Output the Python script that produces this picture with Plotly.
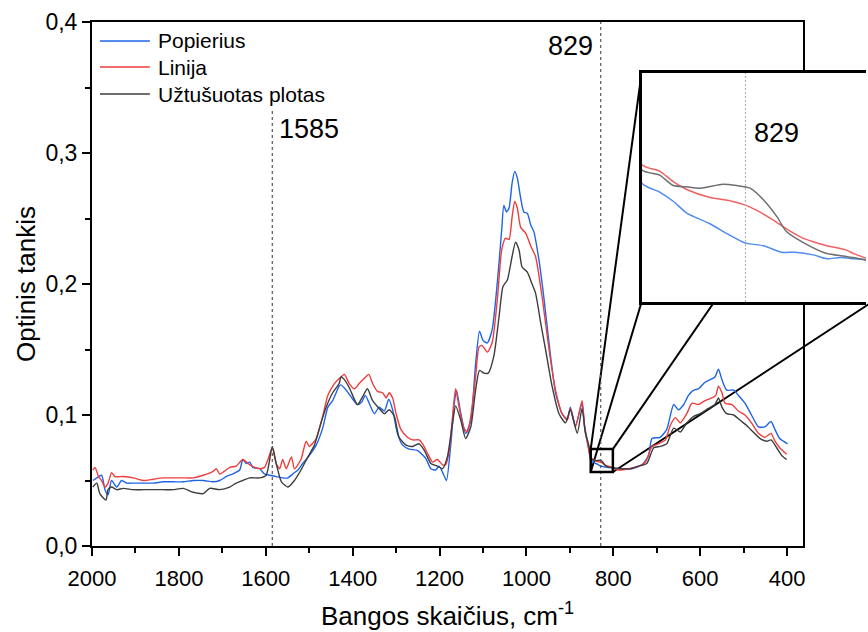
import plotly.graph_objects as go

# ---------------- data ----------------
series_names = ["Popierius", "Linija", "Užtušuotas plotas"]

popierius_x = [1998, 1989, 1978, 1970, 1963, 1955, 1943, 1932, 1920, 1905, 1882, 1859, 1836, 1813, 1790,
               1767, 1744, 1721, 1706, 1691, 1676, 1660, 1653, 1645, 1637, 1630, 1614, 1603, 1591, 1576,
               1561, 1549, 1538, 1526, 1515, 1500, 1484, 1469, 1457, 1446, 1431, 1427, 1415, 1404, 1389,
               1379, 1371, 1362, 1350, 1339, 1327, 1317, 1308, 1297, 1285, 1270, 1251, 1232, 1220, 1209,
               1201, 1190, 1184, 1174, 1166, 1161, 1151, 1140, 1128, 1117, 1108, 1100, 1090, 1079, 1067,
               1057, 1052, 1046, 1040, 1033, 1027, 1021, 1013, 1006, 998, 990, 983, 971, 960, 948,
               933, 918, 906, 899, 887, 872, 866, 857, 852, 848, 845, 842, 837, 833, 829,
               825, 821, 818, 814, 811, 808, 805, 802, 795, 780, 757, 734, 719, 711, 692,
               677, 661, 650, 638, 627, 615, 604, 589, 577, 566, 558, 550, 539, 523, 512,
               497, 482, 466, 451, 437, 428, 417, 399]
popierius_y = [0.050, 0.052, 0.054, 0.043, 0.039, 0.050, 0.045, 0.050, 0.048, 0.048, 0.048, 0.048, 0.049, 0.049, 0.049,
               0.050, 0.050, 0.049, 0.050, 0.053, 0.055, 0.058, 0.066, 0.063, 0.064, 0.060, 0.059, 0.055, 0.054, 0.053,
               0.052, 0.052, 0.055, 0.058, 0.063, 0.069, 0.077, 0.090, 0.106, 0.111, 0.122, 0.123, 0.119, 0.114, 0.108,
               0.110, 0.115, 0.109, 0.101, 0.106, 0.103, 0.112, 0.104, 0.086, 0.077, 0.074, 0.073, 0.067, 0.059, 0.058,
               0.061, 0.054, 0.050, 0.078, 0.109, 0.119, 0.101, 0.086, 0.096, 0.139, 0.164, 0.157, 0.155, 0.165, 0.201,
               0.241, 0.260, 0.255, 0.258, 0.277, 0.286, 0.281, 0.265, 0.255, 0.254, 0.245, 0.240, 0.218, 0.190, 0.155,
               0.117, 0.101, 0.097, 0.106, 0.092, 0.109, 0.091, 0.076, 0.0656, 0.0649, 0.0642, 0.0633, 0.0625, 0.0617, 0.0610,
               0.0608, 0.0603, 0.0603, 0.0601, 0.0598, 0.0599, 0.0598, 0.0597, 0.059, 0.059, 0.059, 0.062, 0.069, 0.082, 0.083,
               0.089, 0.108, 0.104, 0.108, 0.115, 0.119, 0.120, 0.125, 0.127, 0.129, 0.135, 0.127, 0.119, 0.119, 0.115,
               0.109, 0.100, 0.091, 0.091, 0.095, 0.089, 0.082, 0.078]

linija_x = [1998, 1993, 1985, 1978, 1970, 1963, 1955, 1947, 1928, 1905, 1882, 1859, 1836, 1813, 1790,
            1767, 1744, 1721, 1714, 1706, 1683, 1668, 1653, 1637, 1614, 1603, 1595, 1585, 1576, 1568,
            1561, 1553, 1541, 1534, 1519, 1507, 1500, 1484, 1477, 1469, 1457, 1442, 1427, 1419, 1408,
            1396, 1385, 1373, 1363, 1354, 1343, 1331, 1323, 1316, 1308, 1300, 1289, 1274, 1262, 1247,
            1239, 1228, 1216, 1205, 1193, 1186, 1178, 1170, 1163, 1155, 1144, 1136, 1128, 1117, 1109,
            1102, 1090, 1079, 1067, 1057, 1048, 1040, 1033, 1027, 1021, 1013, 1002, 990, 979, 963,
            948, 933, 918, 906, 899, 887, 872, 866, 861, 852, 848, 845, 842, 837, 832,
            829, 826, 823, 820, 817, 814, 811, 807, 805, 802, 788, 764, 742, 726, 711,
            696, 680, 669, 657, 646, 631, 619, 604, 589, 573, 564, 558, 550, 543, 527,
            512, 497, 482, 466, 451, 437, 428, 417, 401]
linija_y = [0.058, 0.060, 0.053, 0.050, 0.045, 0.048, 0.056, 0.053, 0.053, 0.052, 0.050, 0.051, 0.052, 0.052, 0.052,
            0.052, 0.054, 0.057, 0.059, 0.055, 0.060, 0.061, 0.066, 0.062, 0.059, 0.060, 0.066, 0.075, 0.063, 0.059,
            0.066, 0.059, 0.068, 0.059, 0.066, 0.080, 0.076, 0.082, 0.089, 0.099, 0.115, 0.124, 0.129, 0.131, 0.124,
            0.120, 0.124, 0.128, 0.131, 0.124, 0.118, 0.117, 0.113, 0.117, 0.113, 0.101, 0.089, 0.083, 0.081, 0.081,
            0.078, 0.071, 0.064, 0.066, 0.062, 0.062, 0.072, 0.099, 0.120, 0.106, 0.090, 0.087, 0.099, 0.129, 0.152,
            0.153, 0.148, 0.155, 0.188, 0.226, 0.235, 0.234, 0.251, 0.263, 0.258, 0.243, 0.239, 0.229, 0.221, 0.188,
            0.150, 0.119, 0.101, 0.096, 0.105, 0.091, 0.111, 0.090, 0.081, 0.0670, 0.0665, 0.0657, 0.0651, 0.0645, 0.0642,
            0.0639, 0.0634, 0.0628, 0.0621, 0.0615, 0.0611, 0.0608, 0.0605, 0.0602, 0.0598, 0.058, 0.059, 0.061, 0.064, 0.076,
            0.078, 0.081, 0.092, 0.098, 0.094, 0.101, 0.109, 0.108, 0.111, 0.113, 0.115, 0.122, 0.117, 0.109, 0.108,
            0.103, 0.100, 0.094, 0.086, 0.083, 0.086, 0.080, 0.075, 0.070]

uztusuotas_x = [1998, 1989, 1982, 1968, 1963, 1955, 1943, 1928, 1905, 1882, 1859, 1836, 1813, 1790, 1767,
                1744, 1729, 1706, 1683, 1668, 1653, 1637, 1614, 1599, 1585, 1576, 1564, 1549, 1534, 1519,
                1503, 1488, 1473, 1461, 1446, 1431, 1427, 1419, 1408, 1389, 1377, 1366, 1354, 1339, 1327,
                1316, 1304, 1293, 1277, 1262, 1247, 1235, 1220, 1205, 1193, 1182, 1170, 1163, 1151, 1140,
                1128, 1117, 1108, 1098, 1088, 1075, 1063, 1054, 1044, 1033, 1025, 1017, 1010, 998, 987,
                979, 967, 956, 941, 925, 910, 899, 883, 872, 864, 855, 852, 848, 845, 842,
                839, 834, 831, 828, 825, 822, 820, 816, 811, 807, 802, 784, 761, 742, 723,
                707, 692, 677, 661, 646, 631, 615, 600, 581, 566, 558, 550, 539, 523, 508,
                493, 478, 462, 447, 437, 424, 412, 401]
uztusuotas_y = [0.045, 0.048, 0.040, 0.035, 0.043, 0.045, 0.043, 0.044, 0.043, 0.043, 0.043, 0.043, 0.043, 0.044, 0.041,
                0.040, 0.044, 0.043, 0.045, 0.048, 0.050, 0.052, 0.052, 0.054, 0.076, 0.063, 0.049, 0.045, 0.050, 0.058,
                0.068, 0.077, 0.094, 0.106, 0.117, 0.124, 0.129, 0.127, 0.121, 0.108, 0.114, 0.120, 0.111, 0.105, 0.101,
                0.104, 0.099, 0.083, 0.077, 0.076, 0.078, 0.073, 0.063, 0.061, 0.059, 0.068, 0.094, 0.107, 0.096, 0.082,
                0.091, 0.119, 0.134, 0.132, 0.132, 0.145, 0.175, 0.198, 0.203, 0.221, 0.232, 0.226, 0.213, 0.209, 0.200,
                0.193, 0.170, 0.150, 0.122, 0.101, 0.094, 0.104, 0.086, 0.105, 0.086, 0.075, 0.0666, 0.0662, 0.0654, 0.0653,
                0.0652, 0.0655, 0.0654, 0.0652, 0.0643, 0.0630, 0.0619, 0.0610, 0.0602, 0.0600, 0.0597, 0.059, 0.059, 0.061, 0.063,
                0.075, 0.076, 0.078, 0.090, 0.087, 0.094, 0.099, 0.101, 0.105, 0.108, 0.113, 0.106, 0.101, 0.100, 0.096,
                0.092, 0.087, 0.082, 0.080, 0.081, 0.075, 0.069, 0.066]

x_tick_values = [2000, 1800, 1600, 1400, 1200, 1000, 800, 600, 400]
y_tick_values = [0.0, 0.1, 0.2, 0.3, 0.4]
marked_peaks = [1585, 829]
x_title = "Bangos skaičius, cm<sup>-1</sup>"
y_title = "Optinis tankis"

# ---------------- layout constants ----------------
W, H = 868, 632
ML, MR, MT, MB = 92, 0, 22, 86
PW, PH = W - ML - MR, H - MT - MB
MAIN_RIGHT_PX = 805
X_RANGE = [2000, 363]
Y_RANGE = [0, 0.4]
ZOOM_X = [852, 801]
ZOOM_Y = [0.0565, 0.074]
INSET_L, INSET_T, INSET_B, INSET_R_FULL = 643, 73, 302, 874

colors = ["#1f64e6", "#ef3d3d", "#3d3d3d"]
inset_colors = ["#4f8cee", "#f06262", "#6e6e6e"]
FONT = "Liberation Sans, Arial, sans-serif"

main_dx = [0, (MAIN_RIGHT_PX - ML) / PW]
inset_dx = [(INSET_L - ML) / PW, 1.0]
inset_dy = [(H - MB - INSET_B) / PH, (H - MB - INSET_T) / PH]
inset_xr = [ZOOM_X[0], ZOOM_X[0] - (W - INSET_L) / (INSET_R_FULL - INSET_L) * (ZOOM_X[0] - ZOOM_X[1])]


def px_x(px):
    return (px - ML) / PW


def px_y(py):
    return (H - MB - py) / PH


def main_paper_x(v):
    return main_dx[0] + (main_dx[1] - main_dx[0]) * (X_RANGE[0] - v) / (X_RANGE[0] - X_RANGE[1])


def main_paper_y(v):
    return (v - Y_RANGE[0]) / (Y_RANGE[1] - Y_RANGE[0])


fig = go.Figure()
all_x = [popierius_x, linija_x, uztusuotas_x]
all_y = [popierius_y, linija_y, uztusuotas_y]
for name, xs, ys, c, ci in zip(series_names, all_x, all_y, colors, inset_colors):
    fig.add_trace(go.Scatter(x=xs, y=ys, name=name, mode="lines",
                             line=dict(color=c, width=1.4, shape="spline", smoothing=0.6),
                             showlegend=False, xaxis="x", yaxis="y"))
    fig.add_trace(go.Scatter(x=xs, y=ys, name=name, mode="lines",
                             line=dict(color=ci, width=1.5, shape="spline", smoothing=0.6),
                             showlegend=False, xaxis="x2", yaxis="y2"))

shapes = []
annotations = []

# vertical dashed marker lines
shapes.append(dict(type="line", xref="x", yref="y", x0=marked_peaks[0], x1=marked_peaks[0], y0=0, y1=0.333,
                   line=dict(color="#555555", width=1.2, dash="3px,3px"), layer="above"))
shapes.append(dict(type="line", xref="x", yref="y", x0=marked_peaks[1], x1=marked_peaks[1], y0=0, y1=0.4,
                   line=dict(color="#555555", width=1.2, dash="3px,3px"), layer="above"))
annotations.append(dict(x=marked_peaks[0], y=0.318, xref="x", yref="y", text=str(marked_peaks[0]),
                        showarrow=False, xanchor="left", yanchor="middle", xshift=5,
                        font=dict(size=27, color="black", family=FONT)))
annotations.append(dict(x=marked_peaks[1], y=0.382, xref="x", yref="y", text=str(marked_peaks[1]),
                        showarrow=False, xanchor="right", yanchor="middle", xshift=-6,
                        font=dict(size=27, color="black", family=FONT)))

# zoom rectangle on main plot
shapes.append(dict(type="rect", xref="x", yref="y", x0=ZOOM_X[0], x1=ZOOM_X[1], y0=ZOOM_Y[0], y1=ZOOM_Y[1],
                   line=dict(color="black", width=2.5), layer="above"))

# connector lines from the zoom rectangle to the inset corners (hidden parts behind the inset are cut)
inset_l = inset_dx[0]
inset_r = px_x(INSET_R_FULL)
for zx, ix in [(ZOOM_X[0], inset_l), (ZOOM_X[1], inset_r)]:
    for zy, iy in [(ZOOM_Y[1], inset_dy[1]), (ZOOM_Y[0], inset_dy[0])]:
        x0, y0 = main_paper_x(zx), main_paper_y(zy)
        x1, y1 = ix, iy
        if y1 > inset_dy[0]:
            t = (inset_dy[0] - y0) / (y1 - y0)
            xc = x0 + t * (x1 - x0)
            if xc > inset_l:
                x1, y1 = xc, inset_dy[0]
        shapes.append(dict(type="line", xref="paper", yref="paper", x0=x0, y0=y0, x1=x1, y1=y1,
                           line=dict(color="black", width=2), layer="below"))

# inset marker line and label
shapes.append(dict(type="line", xref="x2", yref="y2 domain", x0=marked_peaks[1], x1=marked_peaks[1], y0=0, y1=1,
                   line=dict(color="#b4b4b4", width=1.2, dash="2px,2px")))
annotations.append(dict(x=marked_peaks[1], y=(INSET_B - 133) / (INSET_B - INSET_T), xref="x2",
                        yref="y2 domain", text=str(marked_peaks[1]), showarrow=False, xanchor="left",
                        yanchor="middle", xshift=7, font=dict(size=27, color="black", family=FONT)))

# manual legend
legend_rows_px = [41, 67, 94]
for name, c, ry in zip(series_names, colors, legend_rows_px):
    shapes.append(dict(type="line", xref="paper", yref="paper", x0=px_x(100), x1=px_x(150),
                       y0=px_y(ry), y1=px_y(ry), line=dict(color=c, width=1.6)))
    annotations.append(dict(x=px_x(156), y=px_y(ry), xref="paper", yref="paper", text=name,
                            showarrow=False, xanchor="left", yanchor="middle",
                            font=dict(size=21, color="black", family=FONT)))

fig.update_layout(
    width=W, height=H,
    margin=dict(l=ML, r=MR, t=MT, b=MB, pad=0),
    paper_bgcolor="white", plot_bgcolor="white",
    separators=",.",
    font=dict(family=FONT, color="black"),
    showlegend=False,
    shapes=shapes, annotations=annotations,
    xaxis=dict(domain=main_dx, range=X_RANGE, tickvals=x_tick_values, ticks="outside", ticklen=8,
               tickwidth=1.5, tickcolor="black", showline=True, linecolor="black", linewidth=2, mirror=True,
               showgrid=False, zeroline=False, ticklabelstandoff=4,
               tickfont=dict(size=22, family="Liberation Sans Narrow, Arial Narrow, Liberation Sans"),
               minor=dict(dtick=100, ticks="outside", ticklen=5, tickwidth=1.5, tickcolor="black", showgrid=False),
               title=dict(text=x_title, font=dict(size=26, family=FONT), standoff=16)),
    yaxis=dict(domain=[0, 1], range=Y_RANGE, tickvals=y_tick_values, tickformat=".1f", ticks="outside",
               ticklen=8, tickwidth=1.5, tickcolor="black", showline=True, linecolor="black", linewidth=2,
               mirror=True, showgrid=False, zeroline=False,
               tickfont=dict(size=23, family=FONT),
               minor=dict(dtick=0.05, ticks="outside", ticklen=5, tickwidth=1.5, tickcolor="black", showgrid=False),
               title=dict(text=y_title, font=dict(size=26, family=FONT), standoff=2)),
    xaxis2=dict(domain=inset_dx, range=inset_xr, anchor="y2", showticklabels=False, ticks="",
                showline=True, linecolor="black", linewidth=3, mirror=True, showgrid=False, zeroline=False),
    yaxis2=dict(domain=inset_dy, range=ZOOM_Y, anchor="x2", showticklabels=False, ticks="",
                showline=True, linecolor="black", linewidth=3, mirror=False, showgrid=False, zeroline=False),
)

fig.write_html("out.html", config={"displayModeBar": False},
               post_script="document.body.style.margin='0px';document.body.style.overflow='hidden';")
